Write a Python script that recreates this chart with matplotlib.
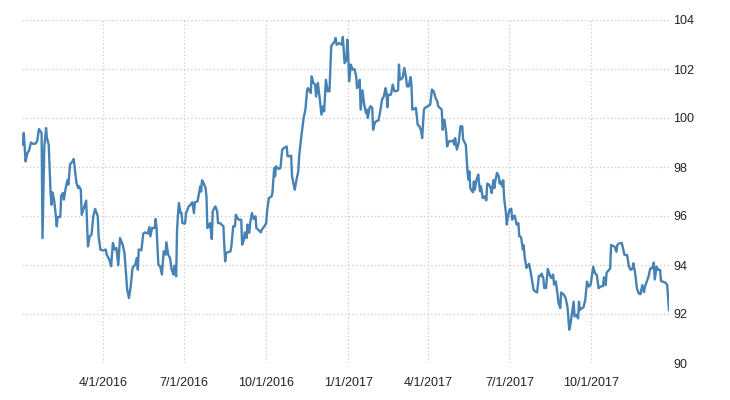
import matplotlib
matplotlib.use("Agg")
import matplotlib.pyplot as plt
import pandas as pd

dates = [
    "2016-01-02", "2016-01-03", "2016-01-05", "2016-01-07", "2016-01-09", "2016-01-11", "2016-01-13", "2016-01-16",
    "2016-01-18", "2016-01-20", "2016-01-23", "2016-01-24", "2016-01-26", "2016-01-28", "2016-01-29", "2016-01-31",
    "2016-02-02", "2016-02-03", "2016-02-04", "2016-02-06", "2016-02-08", "2016-02-09", "2016-02-10", "2016-02-13",
    "2016-02-14", "2016-02-16", "2016-02-17", "2016-02-19", "2016-02-21", "2016-02-22", "2016-02-24", "2016-02-26",
    "2016-02-28", "2016-02-29", "2016-03-02", "2016-03-04", "2016-03-05", "2016-03-07", "2016-03-08", "2016-03-11",
    "2016-03-13", "2016-03-15", "2016-03-17", "2016-03-19", "2016-03-21", "2016-03-23", "2016-03-26", "2016-03-27",
    "2016-03-29", "2016-04-01", "2016-04-04", "2016-04-05", "2016-04-08", "2016-04-10", "2016-04-12", "2016-04-14",
    "2016-04-16", "2016-04-18", "2016-04-20", "2016-04-23", "2016-04-25", "2016-04-28", "2016-04-30",
    "2016-05-02", "2016-05-04", "2016-05-07", "2016-05-09", "2016-05-10", "2016-05-11", "2016-05-14", "2016-05-16",
    "2016-05-18", "2016-05-21", "2016-05-23", "2016-05-24", "2016-05-26", "2016-05-29", "2016-05-30", "2016-05-31",
    "2016-06-02", "2016-06-04", "2016-06-06", "2016-06-08", "2016-06-10", "2016-06-11", "2016-06-13", "2016-06-15",
    "2016-06-17", "2016-06-19", "2016-06-20", "2016-06-22", "2016-06-23", "2016-06-24", "2016-06-25", "2016-06-27",
    "2016-06-28", "2016-06-29", "2016-07-02", "2016-07-03", "2016-07-05", "2016-07-06", "2016-07-08", "2016-07-10",
    "2016-07-11", "2016-07-12", "2016-07-13", "2016-07-16", "2016-07-18", "2016-07-19", "2016-07-20", "2016-07-21",
    "2016-07-23", "2016-07-25", "2016-07-26", "2016-07-27", "2016-07-29", "2016-07-30", "2016-08-01", "2016-08-02",
    "2016-08-04", "2016-08-05", "2016-08-07", "2016-08-08", "2016-08-10", "2016-08-12", "2016-08-14", "2016-08-15",
    "2016-08-16", "2016-08-17", "2016-08-19", "2016-08-22", "2016-08-23", "2016-08-25", "2016-08-27", "2016-08-28",
    "2016-08-31", "2016-09-03", "2016-09-04", "2016-09-06", "2016-09-07", "2016-09-09", "2016-09-10", "2016-09-12",
    "2016-09-13", "2016-09-15", "2016-09-17", "2016-09-19", "2016-09-20", "2016-09-23", "2016-09-25", "2016-09-26",
    "2016-09-29", "2016-10-01", "2016-10-02", "2016-10-04", "2016-10-07", "2016-10-08", "2016-10-10", "2016-10-11",
    "2016-10-12", "2016-10-15", "2016-10-17", "2016-10-19", "2016-10-21", "2016-10-24", "2016-10-25", "2016-10-27",
    "2016-10-29", "2016-10-30", "2016-11-02", "2016-11-04", "2016-11-06", "2016-11-07", "2016-11-09", "2016-11-12",
    "2016-11-14", "2016-11-16", "2016-11-17", "2016-11-20", "2016-11-21", "2016-11-23", "2016-11-25", "2016-11-26",
    "2016-11-28", "2016-11-30", "2016-12-02", "2016-12-04", "2016-12-05", "2016-12-07", "2016-12-09", "2016-12-11",
    "2016-12-13", "2016-12-14", "2016-12-17", "2016-12-18", "2016-12-19", "2016-12-22", "2016-12-25", "2016-12-26",
    "2016-12-28", "2016-12-30", "2016-12-31", "2017-01-01", "2017-01-02",
    "2017-01-04", "2017-01-06", "2017-01-08", "2017-01-10", "2017-01-11", "2017-01-13", "2017-01-14", "2017-01-15",
    "2017-01-17", "2017-01-19", "2017-01-21", "2017-01-22", "2017-01-23", "2017-01-25", "2017-01-26", "2017-01-28",
    "2017-01-29", "2017-01-31", "2017-02-02", "2017-02-04", "2017-02-06", "2017-02-08", "2017-02-10", "2017-02-12",
    "2017-02-13", "2017-02-14", "2017-02-15", "2017-02-18", "2017-02-20", "2017-02-22", "2017-02-23", "2017-02-26",
    "2017-02-27", "2017-02-28", "2017-03-03", "2017-03-05", "2017-03-07", "2017-03-08", "2017-03-10", "2017-03-12",
    "2017-03-13", "2017-03-14", "2017-03-16", "2017-03-18", "2017-03-20", "2017-03-22", "2017-03-24", "2017-03-25",
    "2017-03-27", "2017-03-28", "2017-03-30", "2017-04-01", "2017-04-03", "2017-04-05", "2017-04-07", "2017-04-09",
    "2017-04-11", "2017-04-12", "2017-04-14", "2017-04-16", "2017-04-17", "2017-04-19", "2017-04-21", "2017-04-22",
    "2017-04-24", "2017-04-27", "2017-04-29", "2017-04-30",
    "2017-05-01", "2017-05-03", "2017-05-05", "2017-05-07", "2017-05-09", "2017-05-10", "2017-05-12", "2017-05-13",
    "2017-05-15", "2017-05-16", "2017-05-17", "2017-05-18", "2017-05-19", "2017-05-21", "2017-05-22", "2017-05-23",
    "2017-05-25", "2017-05-27", "2017-05-28", "2017-05-29", "2017-05-30", "2017-06-01", "2017-06-03", "2017-06-05",
    "2017-06-06", "2017-06-08", "2017-06-10", "2017-06-11", "2017-06-13", "2017-06-14", "2017-06-15", "2017-06-17",
    "2017-06-19", "2017-06-20", "2017-06-21", "2017-06-23", "2017-06-24", "2017-06-25", "2017-06-27", "2017-06-28",
    "2017-06-29", "2017-07-01", "2017-07-03", "2017-07-04", "2017-07-06", "2017-07-07", "2017-07-09", "2017-07-11",
    "2017-07-12", "2017-07-14", "2017-07-16", "2017-07-17", "2017-07-18", "2017-07-20", "2017-07-21", "2017-07-23",
    "2017-07-25", "2017-07-27", "2017-07-28", "2017-07-30", "2017-08-01", "2017-08-03", "2017-08-05", "2017-08-06",
    "2017-08-08", "2017-08-09", "2017-08-11", "2017-08-13", "2017-08-15", "2017-08-17", "2017-08-19", "2017-08-20",
    "2017-08-22", "2017-08-24", "2017-08-25", "2017-08-27", "2017-08-28", "2017-08-31", "2017-09-02", "2017-09-04",
    "2017-09-05", "2017-09-06",
    "2017-09-07", "2017-09-09", "2017-09-11", "2017-09-12", "2017-09-14", "2017-09-16", "2017-09-17", "2017-09-18",
    "2017-09-20", "2017-09-22", "2017-09-24", "2017-09-26", "2017-09-28", "2017-09-30", "2017-10-02", "2017-10-03",
    "2017-10-05", "2017-10-07", "2017-10-09", "2017-10-11", "2017-10-14", "2017-10-15", "2017-10-17", "2017-10-18",
    "2017-10-20", "2017-10-22", "2017-10-23", "2017-10-25", "2017-10-27", "2017-10-29", "2017-10-30", "2017-11-01",
    "2017-11-04", "2017-11-05", "2017-11-07", "2017-11-10", "2017-11-12", "2017-11-14", "2017-11-16", "2017-11-17",
    "2017-11-19", "2017-11-21", "2017-11-23", "2017-11-25", "2017-11-27", "2017-11-29", "2017-11-30", "2017-12-02",
    "2017-12-04", "2017-12-06", "2017-12-08", "2017-12-10", "2017-12-11", "2017-12-13", "2017-12-15", "2017-12-17",
    "2017-12-18", "2017-12-20", "2017-12-23", "2017-12-25", "2017-12-27",
]

values = [
    98.91, 99.39, 98.23, 98.57, 98.68, 99.00, 98.95, 98.95,
    99.05, 99.55, 99.39, 95.10, 98.80, 99.59, 99.18, 98.91,
    97.00, 96.46, 96.97, 96.67, 95.99, 95.58, 95.96, 95.96,
    96.83, 96.94, 96.67, 97.14, 97.46, 97.28, 98.12, 98.19,
    98.33, 98.03, 97.37, 97.14, 97.21, 97.07, 96.05, 96.39,
    96.63, 94.76, 95.17, 95.24, 95.99, 96.29, 95.99, 95.17,
    94.63, 94.59, 94.63, 94.42, 94.22, 93.95, 94.90, 94.63,
    94.69, 93.99, 95.10, 94.83, 94.49, 93.00, 92.65,
    93.13, 93.88, 94.01, 94.29, 93.81, 94.63, 94.60, 95.28,
    95.33, 95.28, 95.55, 95.17, 95.51, 95.51, 95.88, 95.51,
    94.01, 93.95, 93.61, 94.56, 94.42, 94.93, 94.42, 94.29,
    93.81, 93.61, 93.97, 93.54, 95.44, 96.05, 96.53, 96.12,
    96.12, 95.71, 95.69, 96.12, 96.29, 96.39, 96.46, 96.56,
    96.33, 96.12, 96.56, 96.60, 97.00, 97.21, 97.00, 97.46,
    97.32, 97.14, 96.80, 95.51, 95.58, 95.71, 95.06, 96.19,
    96.33, 96.39, 96.19, 95.71, 95.71, 95.65, 95.58, 94.79,
    94.15, 94.49, 94.52, 94.56, 94.79, 95.58, 95.58, 96.05,
    95.85, 95.85, 94.83, 95.03, 95.33, 95.10, 95.65, 95.31,
    95.71, 96.12, 95.88, 95.99, 95.51, 95.41, 95.33, 95.44,
    95.58, 95.71, 96.19, 96.73, 96.80, 96.94, 97.96, 97.62,
    98.03, 97.92, 97.96, 98.71, 98.78, 98.84, 98.44, 98.44,
    98.46, 97.62, 97.07, 97.48, 97.82, 98.44, 99.12, 100.00,
    100.34, 101.16, 101.22, 101.02, 101.70, 101.43, 101.36, 100.88,
    101.43, 100.82, 100.14, 100.48, 100.27, 101.56, 101.09, 101.09,
    102.93, 102.99, 103.13, 103.27, 102.99, 103.06, 102.99, 103.31,
    102.24, 102.37, 103.20, 102.65, 101.50,
    102.18, 101.97, 102.00, 101.70, 101.22, 101.36, 101.56, 100.34,
    101.13, 100.54, 100.20, 100.34, 100.00, 100.41, 100.48, 100.41,
    99.52, 99.82, 99.88, 99.90, 100.27, 100.75, 100.88, 101.22,
    101.02, 100.44, 100.95, 100.95, 101.36, 101.09, 101.09, 101.13,
    102.18, 101.56, 101.63, 102.04, 101.63, 101.29, 101.29, 101.67,
    101.36, 100.34, 100.37, 100.41, 99.73, 99.66, 99.46, 99.18,
    100.34, 100.41, 100.45, 100.50, 100.54, 101.16, 101.09, 100.82,
    100.68, 100.48, 100.41, 100.34, 99.52, 99.93, 99.39, 98.84,
    99.05, 99.05, 99.09, 98.91,
    99.18, 98.71, 98.98, 99.66, 99.66, 99.12, 98.98, 98.91,
    97.76, 97.48, 97.82, 97.14, 97.07, 96.97, 97.41, 97.07,
    97.48, 97.69, 97.28, 97.01, 97.21, 96.73, 96.80, 96.64,
    97.32, 97.28, 97.14, 96.94, 97.46, 97.14, 97.41, 97.76,
    97.62, 97.32, 97.41, 97.21, 97.46, 96.73, 96.12, 95.65,
    95.92, 96.26, 96.30, 95.85, 96.01, 96.01, 95.65, 95.71,
    95.17, 95.14, 94.63, 94.80, 94.35, 93.88, 93.95, 94.05,
    93.67, 93.20, 92.99, 92.92, 92.88, 93.56, 93.54, 93.65,
    93.47, 93.06, 93.06, 93.84, 93.61, 93.47, 93.61, 93.20,
    93.33, 92.79, 92.45, 92.24, 92.88, 92.79, 92.65, 92.31,
    91.90, 91.36,
    91.48, 92.00, 92.50, 91.90, 91.97, 91.82, 92.50, 92.16,
    92.23, 92.27, 92.57, 93.32, 93.12, 93.18, 93.66, 93.93,
    93.66, 93.59, 93.05, 93.12, 93.14, 93.50, 93.18, 93.69,
    93.77, 93.86, 94.82, 94.78, 94.75, 94.54, 94.82, 94.88,
    94.90, 94.75, 94.41, 94.41, 93.93, 93.80, 93.86, 94.07,
    93.66, 93.05, 92.84, 92.81, 93.18, 92.90, 93.12, 93.32,
    93.52, 93.86, 93.86, 94.10, 93.41, 93.93, 93.80, 93.80,
    93.35, 93.32, 93.28, 93.18, 92.16,
]

tick_dates = ["2016-04-01", "2016-07-01", "2016-10-01", "2017-01-01", "2017-04-01", "2017-07-01", "2017-10-01"]
tick_labels = ["4/1/2016", "7/1/2016", "10/1/2016", "1/1/2017", "4/1/2017", "7/1/2017", "10/1/2017"]
y_ticks = [90, 92, 94, 96, 98, 100, 102, 104]

plt.rcParams["font.family"] = ["Liberation Sans", "DejaVu Sans"]

x = pd.to_datetime(dates)

fig = plt.figure(figsize=(7.3, 4), dpi=100)
ax = fig.add_axes([22 / 730, 37 / 400, 647 / 730, 343 / 400])

ax.plot(x, values, color="#4682b4", linewidth=1.7, solid_joinstyle="round")

ax.set_xlim(pd.Timestamp("2016-01-01"), x[-1])
ax.set_ylim(90, 104)
ax.set_yticks(y_ticks)
ax.set_xticks(pd.to_datetime(tick_dates))
ax.set_xticklabels(tick_labels)

ax.yaxis.tick_right()
ax.tick_params(axis="y", length=0, pad=3, labelsize=9, labelcolor="#222222")
ax.tick_params(axis="x", length=0, pad=10, labelsize=9, labelcolor="#222222")

ax.grid(True, color="#c8c8c8", linestyle=(0, (1, 2)), linewidth=0.9)
ax.set_axisbelow(True)
for s in ax.spines.values():
    s.set_visible(False)

fig.savefig("out.png", dpi=100)
